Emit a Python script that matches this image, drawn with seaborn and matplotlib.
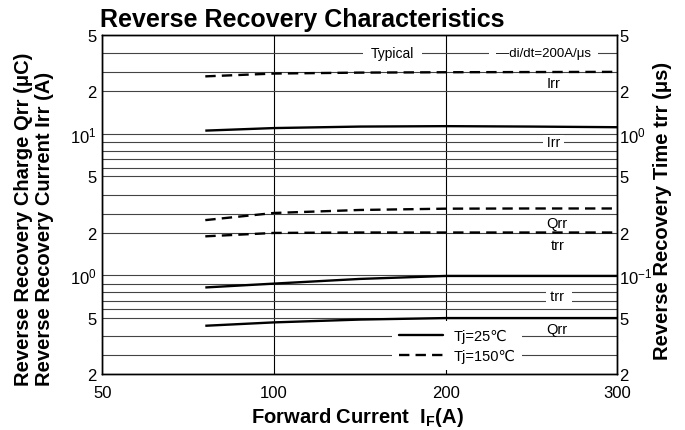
import numpy as np
import matplotlib
matplotlib.use('Agg')

import matplotlib.pyplot as plt
import seaborn as sns
from matplotlib.lines import Line2D
from matplotlib.ticker import FixedLocator, FixedFormatter, NullLocator

forward_current = [80, 100, 150, 200, 250, 300]          # IF (A)
irr_150 = [27.8, 29.3, 29.8, 30.0, 30.1, 30.2]           # Irr (A), Tj=150C
irr_25 = [10.7, 11.3, 11.65, 11.75, 11.65, 11.5]         # Irr (A), Tj=25C
qrr_150 = [2.66, 3.04, 3.2, 3.27, 3.28, 3.28]            # Qrr (uC), Tj=150C
qrr_25 = [0.457, 0.475, 0.49, 0.498, 0.498, 0.498]       # Qrr (uC), Tj=25C
trr_150 = [0.191, 0.199, 0.2, 0.2, 0.2, 0.2]             # trr (us), Tj=150C
trr_25 = [0.0855, 0.090, 0.0955, 0.099, 0.099, 0.099]    # trr (us), Tj=25C

x_ticks = [50, 100, 200, 300]
x_labels = ['50', '100', '200', '300']
left_ticks = [0.2, 0.5, 1, 2, 5, 10, 20, 50]
left_labels = ['2', '5', '$10^{0}$', '2', '5', '$10^{1}$', '2', '5']
left_minor = [0.3, 0.4, 0.6, 0.7, 0.8, 0.9, 3, 4, 6, 7, 8, 9, 30, 40]
right_ticks = [0.02, 0.05, 0.1, 0.2, 0.5, 1, 2, 5]
right_labels = ['2', '5', '$10^{-1}$', '2', '5', '$10^{0}$', '2', '5']

sns.set_theme(style='white')
plt.rcParams['font.family'] = ['Liberation Sans', 'DejaVu Sans']
plt.rcParams['text.color'] = 'black'
plt.rcParams['axes.labelcolor'] = 'black'
plt.rcParams['xtick.color'] = 'black'
plt.rcParams['ytick.color'] = 'black'
plt.rcParams['mathtext.fontset'] = 'custom'
plt.rcParams['mathtext.rm'] = 'Liberation Sans'
plt.rcParams['mathtext.it'] = 'Liberation Sans:italic'
plt.rcParams['mathtext.bf'] = 'Liberation Sans:bold'


# Skalen wie auf dem Datenblattpapier: Teilstriche log, dazwischen linear
def make_scale(ticks, pos):
    ticks = np.asarray(ticks, dtype=float)
    pos = np.asarray(pos, dtype=float)

    def fwd(v):
        return np.interp(v, ticks, pos)

    def inv(p):
        return np.interp(p, pos, ticks)
    return fwd, inv


x_fwd, x_inv = make_scale(x_ticks, [0, 1, 2, 3])
l_fwd, l_inv = make_scale(left_ticks, np.log10(left_ticks))
r_fwd, r_inv = make_scale(right_ticks, np.log10(right_ticks))

fig = plt.figure(figsize=(6.85, 4.31), dpi=100)
fig.subplots_adjust(left=102.3 / 685, right=617.3 / 685,
                    top=1 - 35.7 / 431, bottom=1 - 375 / 431)
ax = fig.add_subplot(111)
ax2 = ax.twinx()

DASH = (4.4, 2.6)
LW = 1.7


def draw(axis, y, dashed):
    sns.lineplot(x=forward_current, y=y, ax=axis, color='black', lw=LW)
    line = axis.lines[-1]
    if dashed:
        line.set_dashes(DASH)
    line.set_solid_capstyle('butt')


draw(ax, irr_150, True)
draw(ax, irr_25, False)
draw(ax, qrr_150, True)
draw(ax, qrr_25, False)
draw(ax2, trr_150, True)
draw(ax2, trr_25, False)

ax.set_xscale('function', functions=(x_fwd, x_inv))
ax.set_yscale('function', functions=(l_fwd, l_inv))
ax2.set_yscale('function', functions=(r_fwd, r_inv))
ax.set_xlim(50, 300)
ax.set_ylim(0.2, 50)
ax2.set_ylim(0.02, 5)

ax.xaxis.set_major_locator(FixedLocator(x_ticks))
ax.xaxis.set_major_formatter(FixedFormatter(x_labels))
ax.xaxis.set_minor_locator(NullLocator())
ax.yaxis.set_major_locator(FixedLocator(left_ticks))
ax.yaxis.set_major_formatter(FixedFormatter(left_labels))
ax.yaxis.set_minor_locator(FixedLocator(left_minor))
ax2.yaxis.set_major_locator(FixedLocator(right_ticks))
ax2.yaxis.set_major_formatter(FixedFormatter(right_labels))
ax2.yaxis.set_minor_locator(NullLocator())

ax.grid(axis='y', which='both', color='#444444', lw=0.8)
ax.grid(axis='x', which='major', color='black', lw=0.8)
ax.set_axisbelow(True)
for a in (ax, ax2):
    a.tick_params(which='both', length=0, labelsize=12, colors='black')
    a.set_xlabel('')
    a.set_ylabel('')
    for sp in a.spines.values():
        sp.set_color('black')
        sp.set_linewidth(1.0)
ax.tick_params(axis='y', pad=4)
ax2.tick_params(axis='y', pad=1.5)
ax.tick_params(axis='x', pad=8)

# Beschriftungen im Diagramm
white_box = dict(facecolor='white', edgecolor='none', boxstyle='square,pad=0.55')
tight_box = dict(facecolor='white', edgecolor='none', boxstyle='square,pad=0')
ax.text(169, 40, 'Typical', ha='center', va='center', fontsize=10, bbox=white_box, zorder=4)
ax.text(257, 40, '—di/dt=200A/μs', ha='center', va='center', fontsize=9.5, bbox=white_box, zorder=4)
ax.text(263, 24, 'Irr', ha='center', va='center', fontsize=10.5)
ax.text(263, 9, ' Irr ', ha='center', va='center', fontsize=10, bbox=tight_box, zorder=4)
ax.text(265, 2.5, 'Qrr', ha='center', va='center', fontsize=10.5)
ax.text(265, 1.7, 'trr', ha='center', va='center', fontsize=10.5)
ax.text(266, 0.76, ' trr  ', ha='center', va='center', fontsize=10.5, bbox=tight_box, zorder=4)
ax.text(265, 0.438, 'Qrr', ha='center', va='center', fontsize=10.5)

handles = [Line2D([], [], color='black', lw=LW),
           Line2D([], [], color='black', lw=LW, dashes=DASH)]
leg = ax2.legend(handles, ['Tj=25℃', 'Tj=150℃'], loc='lower left',
                 bbox_to_anchor=((392 - 102.3) / 515, 4 / 339.3),
                 frameon=True, facecolor='white', edgecolor='none', framealpha=1,
                 fancybox=False, fontsize=10.5, handlelength=3, handletextpad=0.7,
                 labelspacing=0.4, borderpad=0.5, borderaxespad=0)

fig.text(100 / 685, 1 - 26.7 / 431, 'Reverse Recovery Characteristics',
         fontsize=18, fontweight='bold', ha='left', va='baseline')
fig.text(34 / 685, 1 - 386 / 431,
         'Reverse Recovery Charge Qrr (μC)\nReverse Recovery Current Irr (A)',
         rotation=90, ha='center', va='bottom', multialignment='left',
         fontsize=14.5, fontweight='bold', linespacing=1.1)
fig.text(662 / 685, 1 - 360 / 431, 'Reverse Recovery Time trr (μs)',
         rotation=90, ha='center', va='bottom', fontsize=14.5, fontweight='bold')
fig.text(357 / 685, 1 - 423 / 431, r'Forward Current  $\mathbf{I_F}$(A)',
         ha='center', va='baseline', fontsize=14.5, fontweight='bold')

fig.savefig('out.png', dpi=100)
